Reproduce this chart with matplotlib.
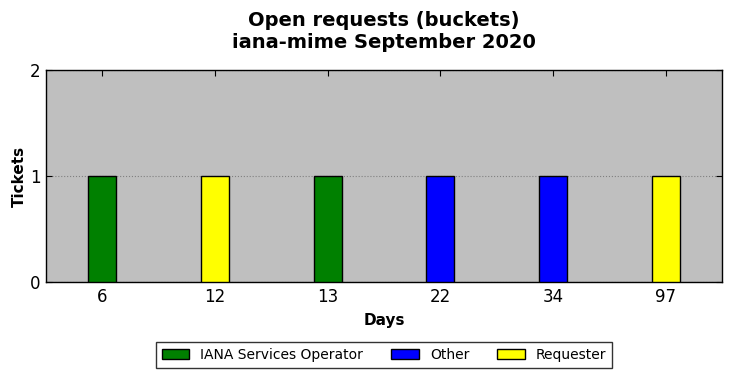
import matplotlib
matplotlib.use("Agg")
import matplotlib.pyplot as plt
from matplotlib.patches import Patch

days = ["6", "12", "13", "22", "34", "97"]
tickets = [1, 1, 1, 1, 1, 1]
groups = ["IANA Services Operator", "Requester", "IANA Services Operator",
          "Other", "Other", "Requester"]
colors = {"IANA Services Operator": "green", "Other": "blue", "Requester": "yellow"}

fig = plt.figure(figsize=(7.31, 3.78), dpi=100)
ax = fig.add_axes([46 / 731, 1 - 282 / 378, 676 / 731, 212 / 378])
ax.set_facecolor("#bfbfbf")

x = list(range(len(days)))
ax.bar(x, tickets, width=0.25, color=[colors[g] for g in groups],
       edgecolor="black", linewidth=1, zorder=3)

ax.set_xlim(-0.5, len(days) - 0.5)
ax.set_ylim(0, 2)
ax.set_xticks(x)
ax.set_xticklabels(days)
ax.set_yticks([0, 1, 2])
ax.tick_params(direction="in", top=True, right=True, labelsize=12, length=4, pad=4)
ax.yaxis.grid(True, linestyle=":", color="gray", linewidth=0.8, zorder=1)
for s in ax.spines.values():
    s.set_linewidth(1)

ax.set_xlabel("Days", fontweight="bold", fontsize=11, labelpad=5)
ax.set_ylabel("Tickets", fontweight="bold", fontsize=11, labelpad=2)
ax.set_title("Open requests (buckets)\niana-mime September 2020",
             fontweight="bold", fontsize=14, pad=16)

handles = [Patch(facecolor=colors[k], edgecolor="black", label=k)
           for k in ["IANA Services Operator", "Other", "Requester"]]
fig.legend(handles=handles, loc="center", bbox_to_anchor=(384 / 731, 1 - 355 / 378),
           ncol=3, fontsize=10, frameon=True, fancybox=False, edgecolor="black",
           handlelength=2.0, handleheight=0.7, columnspacing=2.0, borderpad=0.4)

fig.savefig("out.png", dpi=100)
